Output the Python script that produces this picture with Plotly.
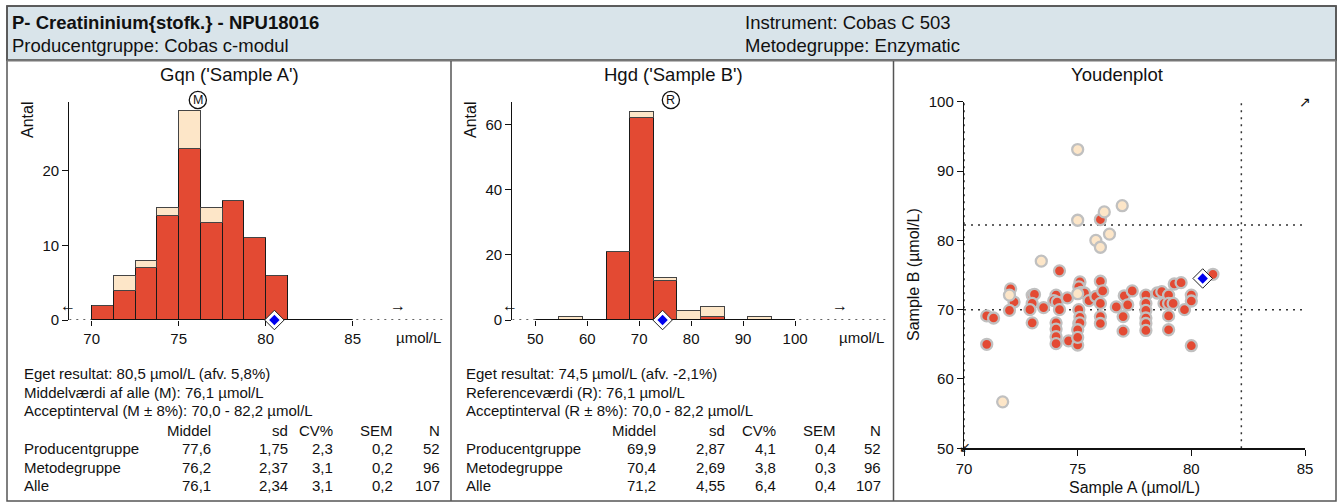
import plotly.graph_objects as go

W, H = 1338, 502
FONT = "Liberation Sans, Arial, sans-serif"

# ---------------- data ----------------
header_title = "P- Creatininium{stofk.} - NPU18016"
header_group = "Producentgruppe: Cobas c-modul"
header_instr = "Instrument: Cobas C 503"
header_method = "Metodegruppe: Enzymatic"

a_title = "Gqn ('Sample A')"
b_title = "Hgd ('Sample B')"
youden_title = "Youdenplot"

a_bin_start = 70.0
a_bin_width = 1.25
a_method_counts = [2, 4, 7, 14, 23, 13, 16, 11, 6, 0, 0, 0]
a_other_counts = [0, 2, 1, 1, 5, 2, 0, 0, 0, 0, 0, 0]

b_bin_start = 50.0
b_bin_width = 50.0 / 11
b_method_counts = [0, 0, 0, 21, 62, 12, 0, 1, 0, 0, 0]
b_other_counts = [0, 1, 0, 0, 2, 1, 3, 3, 0, 1, 0]

own_a = 80.5
own_b = 74.5
ref_a = 76.1
ref_b = 76.1
accept_low = 70.0
accept_high = 82.2

a_ticks = [70, 75, 80, 85]
a_yticks = [0, 10, 20]
b_ticks = [50, 60, 70, 80, 90, 100]
b_yticks = [0, 20, 40, 60]
yd_xticks = [70, 75, 80, 85]
yd_yticks = [50, 60, 70, 80, 90, 100]

# Youden plot points (method group = red, others = light)
red_a = [76.0, 74.2, 80.95, 71.0, 71.3, 71.0, 72.05, 72.2, 72.0, 73.0, 73.1, 73.0, 72.9, 73.0,
         73.5, 74.05, 73.95, 74.1, 74.2, 74.05, 74.05, 74.05, 74.05, 74.55, 74.6, 75.1, 75.05,
         75.15, 75.05, 75.1, 75.05, 75.1, 75.0, 75.0, 75.3, 75.5, 75.8, 76.0, 76.1, 76.0, 76.0,
         76.0, 76.7, 77.05, 77.2, 77.0, 77.0, 77.4, 78.0, 78.0, 78.0, 78.0, 78.0, 78.0, 78.5,
         78.7, 78.8, 79.0, 79.0, 79.2, 79.0, 79.0, 79.25, 79.55, 79.7, 80.0, 80.0, 80.0, 75.0]
red_b = [83.0, 75.6, 75.1, 69.1, 68.8, 65.0, 73.0, 71.1, 69.9, 72.1, 72.2, 70.9, 70.0, 68.1,
         70.3, 72.1, 71.3, 71.1, 70.0, 68.1, 67.2, 66.1, 65.1, 71.7, 65.5, 74.0, 73.3,
         72.5, 70.0, 68.9, 68.0, 68.1, 67.1, 64.9, 72.4, 71.3, 71.9, 74.1, 72.7, 70.9, 69.0,
         68.0, 70.4, 72.0, 70.7, 69.0, 66.9, 72.7, 72.1, 70.9, 69.9, 68.8, 68.0, 67.0, 72.4,
         72.6, 70.9, 72.1, 70.9, 70.9, 69.1, 67.1, 73.7, 73.9, 70.0, 72.1, 71.25, 64.8, 66.0]
light_a = [75.0, 75.0, 76.17, 76.96, 76.4, 75.8, 76.0, 73.4, 72.0, 75.0, 71.7]
light_b = [93.1, 82.9, 84.1, 85.0, 80.9, 80.0, 79.0, 77.0, 72.1, 72.3, 56.7]

a_lines = ["Eget resultat: 80,5 µmol/L (afv. 5,8%)",
           "Middelværdi af alle (M): 76,1 µmol/L",
           "Acceptinterval (M ± 8%): 70,0 - 82,2 µmol/L"]
b_lines = ["Eget resultat: 74,5 µmol/L (afv. -2,1%)",
           "Referenceværdi (R): 76,1 µmol/L",
           "Acceptinterval (R ± 8%): 70,0 - 82,2 µmol/L"]

stat_cols = ["Middel", "sd", "CV%", "SEM", "N"]
groups = ["Producentgruppe", "Metodegruppe", "Alle"]
a_middel = [77.6, 76.2, 76.1]
a_sd = [1.75, 2.37, 2.34]
a_cv = [2.3, 3.1, 3.1]
a_sem = [0.2, 0.2, 0.2]
a_n = [52, 96, 107]
b_middel = [69.9, 70.4, 71.2]
b_sd = [2.87, 2.69, 4.55]
b_cv = [4.1, 3.8, 6.4]
b_sem = [0.4, 0.3, 0.4]
b_n = [52, 96, 107]

# ---------------- style ----------------
RED = "#e34a33"
LIGHT = "#fde6c8"
BLUE = "#0000ee"
TXT = "#111111"


def px(x):
    return x / W


def py(y):
    return 1 - y / H


def fmt(v, d):
    return f"{v:.{d}f}".replace(".", ",")


fig = go.Figure()

# axis pixel geometry
A_X0, A_X1 = 69.3, 443.0
A_V70, A_PU = 91.7, 17.4
B_X0, B_X1 = 512.3, 887.0
B_V50, B_PU = 535.3, 5.195
H_Y0, H_YT = 320.0, 101.7
A_PPU_Y = 7.47
B_PPU_Y = 3.26
Y_X0, Y_X1, Y_Y0, Y_YT = 964.0, 1305.0, 448.3, 101.7
REF_MARK_Y = 100.0

a_rng = [70 - (A_V70 - A_X0) / A_PU, 70 + (A_X1 - A_V70) / A_PU]
b_rng = [50 - (B_V50 - B_X0) / B_PU, 50 + (B_X1 - B_V50) / B_PU]
a_ytop = (H_Y0 - H_YT) / A_PPU_Y
b_ytop = (H_Y0 - H_YT) / B_PPU_Y
xa_rng = {"x": a_rng, "x2": b_rng}

shapes = []
ann = []


# ---- histograms ----
def add_hist(xa, ya, start, width, method, other, own, ref, ref_label):
    n = len(method)
    centers = [start + width * (i + 0.5) for i in range(n)]
    end = start + width * n
    fig.add_trace(go.Scatter(x=[xa_rng[xa][0], xa_rng[xa][1]], y=[0, 0], mode="lines",
                             line=dict(color="#333", width=1.5, dash="2px,5px"),
                             xaxis=xa, yaxis=ya, hoverinfo="skip", cliponaxis=False))
    fig.add_trace(go.Bar(x=centers, y=method, width=width, xaxis=xa, yaxis=ya,
                         marker=dict(color=RED, line=dict(color="#1a1a1a", width=1))))
    fig.add_trace(go.Bar(x=centers, y=other, width=width, xaxis=xa, yaxis=ya,
                         marker=dict(color=LIGHT, line=dict(color="#444", width=1))))
    fig.add_trace(go.Scatter(x=[start, end], y=[0, 0], mode="lines",
                             line=dict(color="#111", width=2.2),
                             xaxis=xa, yaxis=ya, hoverinfo="skip", cliponaxis=False))
    fig.add_trace(go.Scatter(x=[own], y=[0], mode="markers",
                             marker=dict(symbol="diamond", size=15, color="white",
                                         line=dict(color="#222", width=1)),
                             xaxis=xa, yaxis=ya, cliponaxis=False, hoverinfo="skip"))
    fig.add_trace(go.Scatter(x=[own], y=[0], mode="markers",
                             marker=dict(symbol="diamond", size=8, color=BLUE,
                                         line=dict(width=0)),
                             xaxis=xa, yaxis=ya, cliponaxis=False, hoverinfo="skip"))
    # circled reference label above the plot
    shapes.append(dict(type="circle", xref=xa, yref="paper",
                       xsizemode="pixel", xanchor=ref, x0=-8.6, x1=8.6,
                       ysizemode="pixel", yanchor=py(REF_MARK_Y), y0=-8.6, y1=8.6,
                       line=dict(color="#111", width=1.3), fillcolor="rgba(0,0,0,0)"))
    ann.append(dict(x=ref, xref=xa, y=py(REF_MARK_Y), yref="paper", text=ref_label,
                    showarrow=False, xanchor="center", yanchor="middle",
                    font=dict(family=FONT, size=12.5, color=TXT)))


add_hist("x", "y", a_bin_start, a_bin_width, a_method_counts, a_other_counts,
         own_a, ref_a, "M")
add_hist("x2", "y2", b_bin_start, b_bin_width, b_method_counts, b_other_counts,
         own_b, ref_b, "R")

# ---- Youden plot ----
dot = dict(color="#333", width=1.5, dash="2px,5px")
for yv in (accept_low, accept_high):
    fig.add_trace(go.Scatter(x=[70, 85], y=[yv, yv], mode="lines", line=dot,
                             xaxis="x3", yaxis="y3", hoverinfo="skip"))
for xv in (accept_low, accept_high):
    fig.add_trace(go.Scatter(x=[xv, xv], y=[50, 100], mode="lines", line=dot,
                             xaxis="x3", yaxis="y3", hoverinfo="skip"))
fig.add_trace(go.Scatter(x=red_a, y=red_b, mode="markers",
                         marker=dict(size=11, color=RED, line=dict(color="#c0c0c0", width=2.3)),
                         xaxis="x3", yaxis="y3", cliponaxis=False))
fig.add_trace(go.Scatter(x=light_a, y=light_b, mode="markers",
                         marker=dict(size=11, color=LIGHT, line=dict(color="#c0c0c0", width=2.3)),
                         xaxis="x3", yaxis="y3", cliponaxis=False))
fig.add_trace(go.Scatter(x=[own_a], y=[own_b], mode="markers",
                         marker=dict(symbol="diamond", size=15, color="white",
                                     line=dict(color="#222", width=1)),
                         xaxis="x3", yaxis="y3", cliponaxis=False))
fig.add_trace(go.Scatter(x=[own_a], y=[own_b], mode="markers",
                         marker=dict(symbol="diamond", size=8, color=BLUE, line=dict(width=0)),
                         xaxis="x3", yaxis="y3", cliponaxis=False))

tickfont = dict(family=FONT, size=15, color=TXT)


def xax(domain, rng, tickvals, anchor, showline):
    return dict(domain=domain, range=rng, tickvals=tickvals, anchor=anchor,
                showline=showline, linecolor="#111", linewidth=1.2,
                showgrid=False, zeroline=False, ticks="outside", ticklen=5 if not showline else 6,
                tickcolor="#111", tickfont=tickfont, fixedrange=True, automargin=False)


def yax(domain, rng, tickvals, anchor):
    return dict(domain=domain, range=rng, tickvals=tickvals, anchor=anchor,
                showline=True, linecolor="#111", linewidth=1.2,
                showgrid=False, zeroline=False, ticks="outside", ticklen=6,
                tickcolor="#111", tickfont=tickfont, fixedrange=True, automargin=False)


fig.update_layout(
    template="none",
    width=W, height=H, autosize=False,
    margin=dict(l=0, r=0, t=0, b=0, pad=0, autoexpand=False),
    paper_bgcolor="white", plot_bgcolor="rgba(0,0,0,0)",
    showlegend=False, barmode="stack", bargap=0,
    font=dict(family=FONT, size=15, color=TXT),
    xaxis=xax([px(A_X0), px(A_X1)], a_rng, a_ticks, "y", False),
    yaxis=yax([py(H_Y0), py(H_YT)], [0, a_ytop], a_yticks, "x"),
    xaxis2=xax([px(B_X0), px(B_X1)], b_rng, b_ticks, "y2", False),
    yaxis2=yax([py(H_Y0), py(H_YT)], [0, b_ytop], b_yticks, "x2"),
    xaxis3=xax([px(Y_X0), px(Y_X1)], [70, 85], yd_xticks, "y3", True),
    yaxis3=yax([py(Y_Y0), py(Y_YT)], [50, 100], yd_yticks, "x3"),
)

# ---- frame / header shapes ----
shapes += [
    dict(type="rect", xref="paper", yref="paper", x0=px(7), x1=px(1336), y0=py(60), y1=py(6),
         fillcolor="#d9e4ea", line=dict(color="#444", width=1.5), layer="below"),
    dict(type="rect", xref="paper", yref="paper", x0=px(7), x1=px(1336), y0=py(501), y1=py(6),
         fillcolor="rgba(0,0,0,0)", line=dict(color="#555", width=1.5), layer="below"),
    dict(type="line", xref="paper", yref="paper", x0=px(7), x1=px(1336), y0=py(60.5), y1=py(60.5),
         line=dict(color="#777", width=2), layer="below"),
    dict(type="line", xref="paper", yref="paper", x0=px(451), x1=px(451), y0=py(61), y1=py(501),
         line=dict(color="#555", width=1.5), layer="below"),
    dict(type="line", xref="paper", yref="paper", x0=px(893.5), x1=px(893.5), y0=py(61), y1=py(501),
         line=dict(color="#555", width=1.5), layer="below"),
]
fig.update_layout(shapes=shapes)


def text(x, y, s, size=15, anchor="left", bold=False, angle=0):
    ann.append(dict(x=px(x), y=py(y), xref="paper", yref="paper",
                    text=f"<b>{s}</b>" if bold else s,
                    showarrow=False, xanchor=anchor, yanchor="middle", textangle=angle,
                    font=dict(family=FONT, size=size, color=TXT)))


# header
text(10, 22.5, header_title, size=18.5, bold=True)
text(10, 45.5, header_group, size=18.5)
text(743, 22.5, header_instr, size=18.5)
text(743, 45.5, header_method, size=18.5)

# titles
text(230, 75, a_title, size=18.5, anchor="center")
text(673, 75, b_title, size=18.5, anchor="center")
text(1117, 75, youden_title, size=18.5, anchor="center")

# axis titles
text(27, 120, "Antal", size=16, anchor="center", angle=-90)
text(470, 120, "Antal", size=16, anchor="center", angle=-90)
text(913, 275, "Sample B (µmol/L)", size=16, anchor="center", angle=-90)
text(1134.5, 487, "Sample A (µmol/L)", size=16, anchor="center")

# unit labels and arrows
text(394, 337, "µmol/L")
text(837, 337, "µmol/L")
text(67.5, 305, "←", size=16, anchor="center")
text(397.5, 305, "→", size=16, anchor="center")
text(510, 305, "←", size=16, anchor="center")
text(839.5, 305, "→", size=16, anchor="center")
text(1305, 101.5, "↗", size=14, anchor="center")
text(965, 447, "↙", size=14, anchor="center")

# info text and statistics tables
line_y = [373.5, 392, 410.5]
for i in range(3):
    text(21.5, line_y[i], a_lines[i])
    text(463.5, line_y[i], b_lines[i])

head_y = 430
row_y = [448.5, 467, 485.5]
a_cols_x = [213, 290, 335, 395, 442]
b_cols_x = [658, 727, 778, 838, 883]
for c, name in enumerate(stat_cols):
    text(a_cols_x[c], head_y, name, anchor="right")
    text(b_cols_x[c], head_y, name, anchor="right")

for r, g in enumerate(groups):
    text(21.5, row_y[r], g)
    text(463.5, row_y[r], g)
    a_vals = [fmt(a_middel[r], 1), fmt(a_sd[r], 2), fmt(a_cv[r], 1), fmt(a_sem[r], 1), str(a_n[r])]
    b_vals = [fmt(b_middel[r], 1), fmt(b_sd[r], 2), fmt(b_cv[r], 1), fmt(b_sem[r], 1), str(b_n[r])]
    for c in range(5):
        text(a_cols_x[c], row_y[r], a_vals[c], anchor="right")
        text(b_cols_x[c], row_y[r], b_vals[c], anchor="right")

fig.update_layout(annotations=ann)

fig.write_html("out.html", config={"displayModeBar": False, "staticPlot": True},
               post_script="document.body.style.margin='0';document.body.style.overflow='hidden';")
